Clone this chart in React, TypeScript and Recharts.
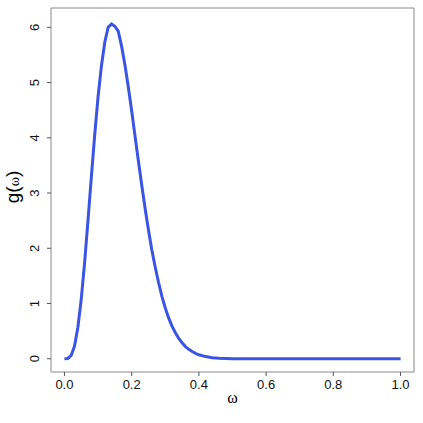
import { LineChart, Line, XAxis, YAxis, ReferenceArea } from 'recharts';

// omega grid and g(omega)
const omega = [
  0, 0.01, 0.02, 0.03, 0.04, 0.05, 0.06, 0.07, 0.08, 0.09, 0.1, 0.11, 0.12, 0.13, 0.14,
  0.15, 0.16, 0.17, 0.18, 0.19, 0.2, 0.21, 0.22, 0.23, 0.24, 0.25, 0.26, 0.27, 0.28, 0.29,
  0.3, 0.31, 0.32, 0.33, 0.34, 0.35, 0.36, 0.37, 0.38, 0.39, 0.4, 0.42, 0.44, 0.46, 0.48,
  0.5, 0.6, 0.7, 0.8, 0.9, 1.0,
];
const gValues = [
  0, 0.005, 0.06, 0.23, 0.57, 1.08, 1.74, 2.5, 3.29, 4.05, 4.74, 5.3, 5.73, 6.0, 6.06,
  6.02, 5.93, 5.66, 5.32, 4.92, 4.49, 4.03, 3.58, 3.14, 2.72, 2.33, 1.97, 1.66, 1.38, 1.13,
  0.92, 0.74, 0.59, 0.47, 0.37, 0.29, 0.22, 0.17, 0.13, 0.097, 0.072, 0.039, 0.02, 0.01, 0.005,
  0.002, 0, 0, 0, 0, 0,
];
const xTicks = [0, 0.2, 0.4, 0.6, 0.8, 1.0];
const yTicks = [0, 1, 2, 3, 4, 5, 6];

const data = omega.map((w, i) => ({ w, g: gValues[i] }));

const XDOM: [number, number] = [-0.04, 1.04];
const YDOM: [number, number] = [-0.24, 6.35];
const SANS = 'Liberation Sans, Arial, sans-serif';

function YTick(props: any) {
  const { y, payload } = props;
  const x = 39;
  return (
    <text
      x={x}
      y={y}
      transform={`rotate(-90, ${x}, ${y})`}
      textAnchor="middle"
      style={{ fontSize: 13, fontFamily: SANS }}
      fill="#111"
    >
      {payload.value}
    </text>
  );
}

function YTitle() {
  const x = 19;
  const y = 187;
  return (
    <text x={x} y={y} transform={`rotate(-90, ${x}, ${y})`} textAnchor="middle" fill="#000">
      <tspan style={{ fontSize: 19, fontFamily: SANS }}>g(</tspan>
      <tspan style={{ fontSize: 14, fontFamily: 'Liberation Serif, serif' }}>ω</tspan>
      <tspan style={{ fontSize: 19, fontFamily: SANS }}>)</tspan>
    </text>
  );
}

function XTitle() {
  return (
    <text
      x={232.5}
      y={403}
      textAnchor="middle"
      style={{ fontSize: 16, fontFamily: 'Liberation Serif, serif' }}
      fill="#000"
    >
      ω
    </text>
  );
}

export default function App() {
  return (
    <div style={{ position: 'fixed', left: 0, top: 0, width: 423, height: 423, background: '#fff' }}>
      <LineChart width={423} height={423} data={data} margin={{ top: 8, right: 9, bottom: 0, left: 0 }}>
        <XAxis
          dataKey="w"
          type="number"
          domain={XDOM}
          ticks={xTicks}
          allowDataOverflow
          height={51}
          axisLine={false}
          tickSize={4}
          tickMargin={4}
          tickLine={{ stroke: '#555' }}
          tick={{ fontSize: 13, fill: '#111', fontFamily: SANS, style: { fontSize: 13 } }}
          tickFormatter={(v: number) => v.toFixed(1)}
          label={{ content: () => <XTitle /> }}
        />
        <YAxis
          type="number"
          domain={YDOM}
          ticks={yTicks}
          allowDataOverflow
          width={51}
          axisLine={false}
          tickSize={4}
          tickMargin={2}
          tickLine={{ stroke: '#555' }}
          tick={<YTick />}
          label={{ content: () => <YTitle /> }}
        />
        <ReferenceArea
          x1={XDOM[0]}
          x2={XDOM[1]}
          y1={YDOM[0]}
          y2={YDOM[1]}
          fill="none"
          stroke="#8a8a8a"
          strokeWidth={1}
          ifOverflow="visible"
        />
        <Line
          type="linear"
          dataKey="g"
          stroke="#3a55e6"
          strokeWidth={3}
          dot={false}
          isAnimationActive={false}
        />
      </LineChart>
    </div>
  );
}
